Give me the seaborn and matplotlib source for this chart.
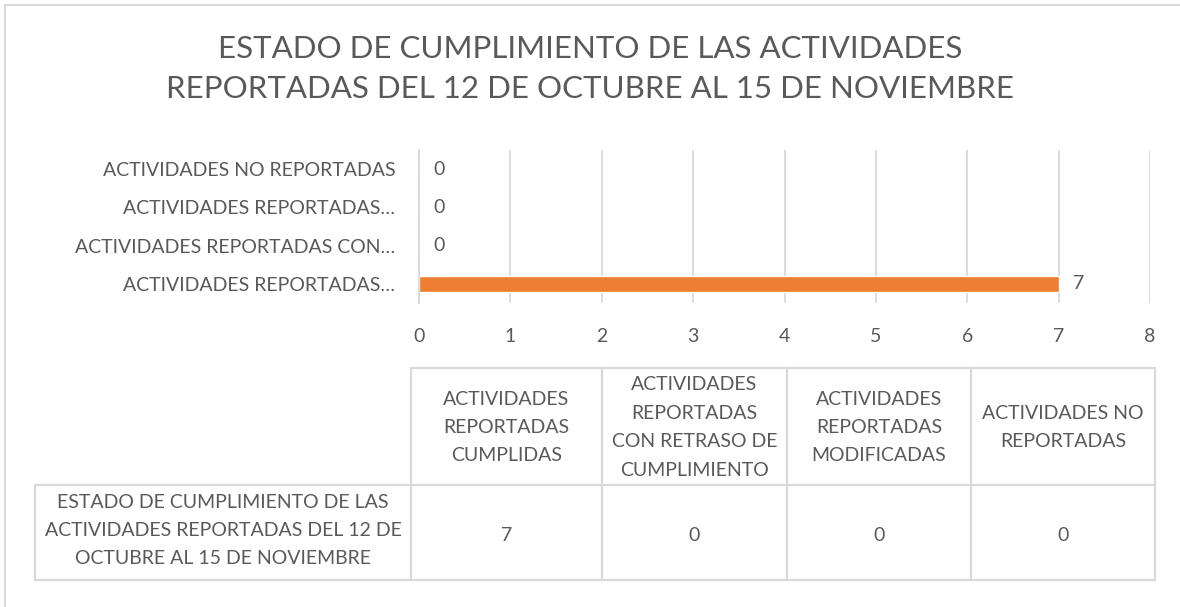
import matplotlib
matplotlib.use("Agg")
import matplotlib.pyplot as plt
import seaborn as sns
import pandas as pd
from matplotlib.lines import Line2D

sns.set_theme(style="white")
plt.rcParams['font.family'] = ['Lato', 'DejaVu Sans']

# ---- data ----
categories = [
    "ACTIVIDADES REPORTADAS CUMPLIDAS",
    "ACTIVIDADES REPORTADAS CON RETRASO DE CUMPLIMIENTO",
    "ACTIVIDADES REPORTADAS MODIFICADAS",
    "ACTIVIDADES NO REPORTADAS",
]
axis_labels = [
    "ACTIVIDADES REPORTADAS…",
    "ACTIVIDADES REPORTADAS CON…",
    "ACTIVIDADES REPORTADAS…",
    "ACTIVIDADES NO REPORTADAS",
]
header_labels = [
    "ACTIVIDADES\nREPORTADAS\nCUMPLIDAS",
    "ACTIVIDADES\nREPORTADAS\nCON RETRASO DE\nCUMPLIMIENTO",
    "ACTIVIDADES\nREPORTADAS\nMODIFICADAS",
    "ACTIVIDADES NO\nREPORTADAS",
]
values = [7, 0, 0, 0]
series_name = "ESTADO DE CUMPLIMIENTO DE LAS\nACTIVIDADES REPORTADAS DEL 12 DE\nOCTUBRE AL 15 DE NOVIEMBRE"
title = "ESTADO DE CUMPLIMIENTO DE LAS ACTIVIDADES\nREPORTADAS DEL 12 DE OCTUBRE AL 15 DE NOVIEMBRE"
x_ticks = [0, 1, 2, 3, 4, 5, 6, 7, 8]

TEXT = "#595959"
GRID = "#D9D9D9"
BAR = "#ED7D31"
FS = 14

W, H = 1180, 607
fig = plt.figure(figsize=(W / 100, H / 100), dpi=100)

def fx(px):
    return px / W

def fy(py):
    return 1 - py / H

# chart axes
ax = fig.add_axes([fx(419), fy(303), fx(1150) - fx(419), fy(150) - fy(303)])
df = pd.DataFrame({"cat": categories[::-1], "val": values[::-1]})
sns.barplot(data=df, x="val", y="cat", order=categories[::-1], color=BAR,
            width=0.42, ax=ax, saturation=1)
ax.set_xlim(0, 8)
ax.set_ylim(3.5, -0.5)
ax.set_xticks(x_ticks)
ax.set_xticklabels([str(t) for t in x_ticks])
ax.set_yticks(range(4))
ax.set_yticklabels(axis_labels[::-1])
ax.set_xlabel("")
ax.set_ylabel("")
ax.grid(axis="x", color=GRID, linewidth=1.3)
ax.set_axisbelow(True)
for s in ["top", "right", "bottom"]:
    ax.spines[s].set_visible(False)
ax.spines["left"].set_color(GRID)
ax.spines["left"].set_linewidth(1.3)
ax.tick_params(axis="y", length=0, pad=17, labelsize=FS, labelcolor=TEXT)
ax.tick_params(axis="x", length=0, pad=18, labelsize=FS, labelcolor=TEXT)
ax.set_yticks([-0.5, 0.5, 1.5, 2.5, 3.5], minor=True)
ax.tick_params(axis="y", which="minor", length=5, color=GRID, width=1.3, direction="out")
for c in ax.containers:
    ax.bar_label(c, labels=[str(int(v)) for v in c.datavalues], padding=10,
                 fontsize=FS, color=TEXT)

# title
fig.text(0.5, fy(69), title, ha="center", va="center", fontsize=22.5,
         color=TEXT, linespacing=1.55)

# table overlay
ov = fig.add_axes([0, 0, 1, 1])
ov.set_xlim(0, W)
ov.set_ylim(H, 0)
ov.axis("off")
LC = "#D9D9D9"
LW = 1.6
col_x = [35, 411, 602, 787, 971, 1155]
row_y = [368, 485, 580]
ov.add_line(Line2D([col_x[1], col_x[-1]], [row_y[0], row_y[0]], color=LC, lw=LW))
ov.add_line(Line2D([col_x[0], col_x[-1]], [row_y[1], row_y[1]], color=LC, lw=LW))
ov.add_line(Line2D([col_x[0], col_x[-1]], [row_y[2], row_y[2]], color=LC, lw=LW))
ov.add_line(Line2D([col_x[0], col_x[0]], [row_y[1], row_y[2]], color=LC, lw=LW))
for x in col_x[1:]:
    ov.add_line(Line2D([x, x], [row_y[0], row_y[2]], color=LC, lw=LW))
# chart border
ov.add_line(Line2D([5, 5], [5, H + 5], color=GRID, lw=1.5))
ov.add_line(Line2D([5, W + 5], [5, 5], color=GRID, lw=1.5))

for i, lab in enumerate(header_labels):
    cx = (col_x[i + 1] + col_x[i + 2]) / 2
    ov.text(cx, (row_y[0] + row_y[1]) / 2 + 1, lab, ha="center", va="center",
            fontsize=FS, color=TEXT, linespacing=1.82)
    ov.text(cx, (row_y[1] + row_y[2]) / 2 + 3, str(values[i]), ha="center",
            va="center", fontsize=FS, color=TEXT)
ov.text((col_x[0] + col_x[1]) / 2, (row_y[1] + row_y[2]) / 2 - 2, series_name,
        ha="center", va="center", multialignment="center",
        fontsize=FS, color=TEXT, linespacing=1.75)

fig.savefig("out.png", dpi=100, facecolor="white")
